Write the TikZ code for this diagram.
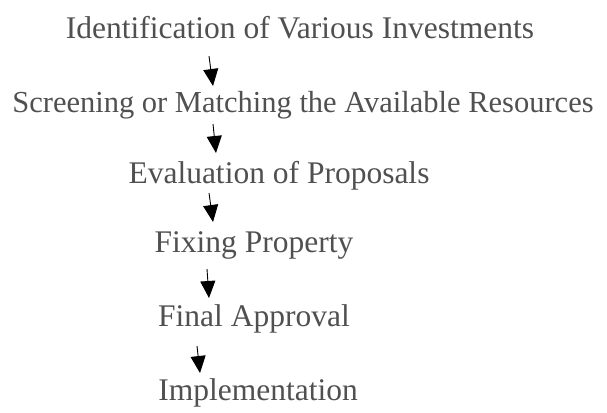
\documentclass[tikz,border=0pt]{standalone}
\usepackage{fontspec}
\setmainfont{Liberation Serif}
\usetikzlibrary{arrows.meta}
\definecolor{steptext}{HTML}{505050}
\begin{document}
\begin{tikzpicture}[x=1pt,y=-1pt,
  stage/.style={anchor=base,inner sep=0pt,text=steptext,font=\fontsize{31.5}{36}\selectfont},
  flow/.style={draw=black,line width=0.9pt,-{Triangle[width=15pt,length=17pt]}}]
\useasboundingbox (0,0) rectangle (607,412);
% process stages
\node[stage] (s1) at (300,38)  {Identification of Various Investments};
\node[stage,font=\fontsize{30.5}{36}\selectfont] (s2) at (303,112) {Screening or Matching the Available Resources};
\node[stage] (s3) at (279,183) {Evaluation of Proposals};
\node[stage] (s4) at (254,252) {Fixing Property};
\node[stage] (s5) at (254,326) {Final Approval};
\node[stage] (s6) at (258,400) {Implementation};
% arrow ends between stages
\coordinate (a1) at (209,56);  \coordinate (b1) at (213,86);
\coordinate (a2) at (213,124); \coordinate (b2) at (216,153);
\coordinate (a3) at (209,193); \coordinate (b3) at (213,222);
\coordinate (a4) at (207,269); \coordinate (b4) at (209,298);
\coordinate (a5) at (197,346); \coordinate (b5) at (200,373);
\foreach \i in {1,...,5} \draw[flow] (a\i) -- (b\i);
\end{tikzpicture}
\end{document}
